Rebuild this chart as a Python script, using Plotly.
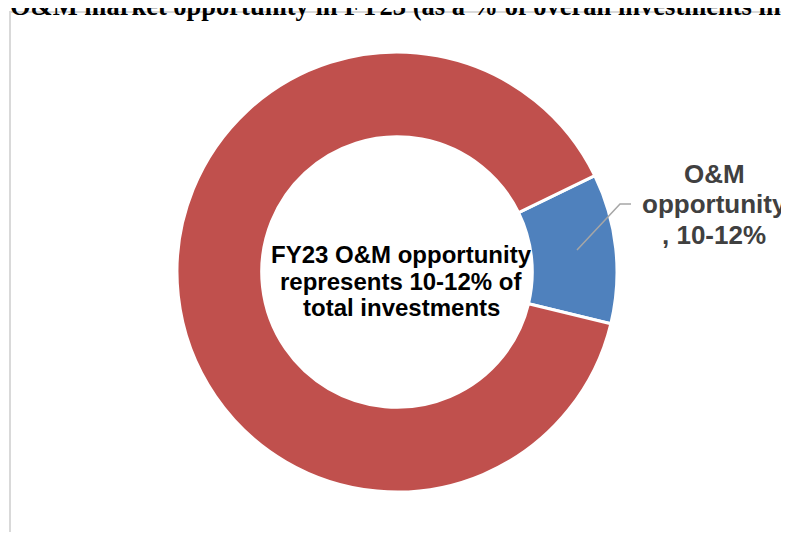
import plotly.graph_objects as go

# Data
labels = ["O&M opportunity", "Other investments"]
values = [11, 89]
colors = ["#4F81BD", "#C0504D"]
title_text = "O&M market opportunity in FY23 (as a % of overall investments in"
center_lines = ["FY23 O&M opportunity", "represents 10-12% of", "total investments"]
label_lines = ["O&M", "opportunity", ", 10-12%"]

OFF = 8  # default page body margin
W, H = 781, 524
L, R, T, B = 169, 172, 44, 40
PW = W - L - R
PH = H - T - B


def px(x, y):
    """page pixel -> paper coords"""
    x -= OFF
    y -= OFF
    return (x - L) / PW, (H - B - y) / PH


fig = go.Figure(
    go.Pie(
        labels=labels,
        values=values,
        hole=0.615,
        sort=False,
        direction="clockwise",
        rotation=64,
        marker=dict(colors=colors, line=dict(color="white", width=3)),
        textinfo="none",
        hoverinfo="skip",
        showlegend=False,
    )
)

annotations = []
# title (cut off at the top like the reference)
tx, ty = px(8, 0)
annotations.append(dict(
    x=tx, y=1, xref="paper", yref="paper", text="<b>%s</b>" % title_text,
    showarrow=False, xanchor="left", yanchor="middle", yshift=T + 2,
    font=dict(family="Liberation Serif, Times New Roman", size=26.5, color="#000000"),
))

baselines = [263, 290, 316]
for line, yb in zip(center_lines, baselines):
    x0, y0 = px(401, yb - 9)
    annotations.append(dict(
        x=x0, y=y0, xref="paper", yref="paper", text="<b>%s</b>" % line,
        showarrow=False, xanchor="center", yanchor="middle",
        font=dict(family="Liberation Sans, Arial", size=24, color="#000000"),
    ))

lbl_baselines = [184, 214, 245]
for line, yb in zip(label_lines, lbl_baselines):
    x0, y0 = px(714, yb - 10)
    annotations.append(dict(
        x=x0, y=y0, xref="paper", yref="paper", text="<b>%s</b>" % line,
        showarrow=False, xanchor="center", yanchor="middle",
        font=dict(family="Liberation Sans, Arial", size=26, color="#404040"),
    ))

shapes = []
# leader line
p1 = px(577, 250)
p2 = px(620, 204)
p3 = px(631, 204)
shapes.append(dict(
    type="path", xref="paper", yref="paper",
    path="M %f %f L %f %f L %f %f" % (p1[0], p1[1], p2[0], p2[1], p3[0], p3[1]),
    line=dict(color="#A6A6A6", width=1.5),
))
# outer chart border (cut off at right/bottom)
b0 = px(10, 12)
b1 = px(830, 580)
shapes.append(dict(
    type="rect", xref="paper", yref="paper", layer="below",
    x0=b0[0], y0=b1[1], x1=b1[0], y1=b0[1],
    line=dict(color="#D9D9D9", width=2), fillcolor="rgba(0,0,0,0)",
))

fig.update_layout(
    width=W, height=H,
    margin=dict(l=L, r=R, t=T, b=B, pad=0),
    paper_bgcolor="white", plot_bgcolor="white",
    annotations=annotations,
    shapes=shapes,
)

fig.write_html("out.html")
